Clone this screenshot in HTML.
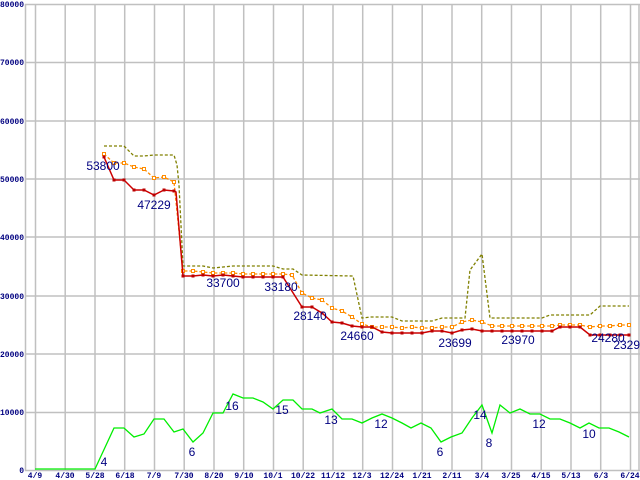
<!DOCTYPE html>
<html><head><style>body{margin:0;background:#fff}svg{display:block}</style></head><body>
<svg width="640" height="480" xmlns="http://www.w3.org/2000/svg">
<rect width="640" height="480" fill="#fff"/>
<g stroke="#c0c0c0" stroke-width="1.5">
<line x1="25" y1="4.5" x2="640" y2="4.5"/>
<line x1="25" y1="62.5" x2="640" y2="62.5"/>
<line x1="25" y1="121" x2="640" y2="121"/>
<line x1="25" y1="179" x2="640" y2="179"/>
<line x1="25" y1="237" x2="640" y2="237"/>
<line x1="25" y1="296" x2="640" y2="296"/>
<line x1="25" y1="354" x2="640" y2="354"/>
<line x1="25" y1="412.5" x2="640" y2="412.5"/>
<line x1="25" y1="470.5" x2="640" y2="470.5"/>
<line x1="25.5" y1="4" x2="25.5" y2="471"/>
<line x1="639" y1="4" x2="639" y2="471"/>
<line x1="35.5" y1="4" x2="35.5" y2="471"/><line x1="65.2" y1="4" x2="65.2" y2="471"/><line x1="95" y1="4" x2="95" y2="471"/><line x1="124.7" y1="4" x2="124.7" y2="471"/><line x1="154.5" y1="4" x2="154.5" y2="471"/><line x1="184.2" y1="4" x2="184.2" y2="471"/><line x1="214" y1="4" x2="214" y2="471"/><line x1="243.7" y1="4" x2="243.7" y2="471"/><line x1="273.5" y1="4" x2="273.5" y2="471"/><line x1="303.2" y1="4" x2="303.2" y2="471"/><line x1="333" y1="4" x2="333" y2="471"/><line x1="362.7" y1="4" x2="362.7" y2="471"/><line x1="392.5" y1="4" x2="392.5" y2="471"/><line x1="422.2" y1="4" x2="422.2" y2="471"/><line x1="452" y1="4" x2="452" y2="471"/><line x1="481.7" y1="4" x2="481.7" y2="471"/><line x1="511.5" y1="4" x2="511.5" y2="471"/><line x1="541.2" y1="4" x2="541.2" y2="471"/><line x1="571" y1="4" x2="571" y2="471"/><line x1="600.7" y1="4" x2="600.7" y2="471"/><line x1="630.5" y1="4" x2="630.5" y2="471"/>
</g>
<g font-family="Liberation Mono, monospace" font-size="8" font-weight="bold" fill="#000080">
<g text-anchor="end">
<text x="24" y="7">80000</text><text x="24" y="65">70000</text><text x="24" y="124">60000</text><text x="24" y="182">50000</text><text x="24" y="240">40000</text><text x="24" y="299">30000</text><text x="24" y="357">20000</text><text x="24" y="415">10000</text><text x="24" y="473">0</text>
</g>
<g text-anchor="middle">
<text x="35" y="478">4/9</text><text x="65" y="478">4/30</text><text x="95" y="478">5/28</text><text x="125" y="478">6/18</text><text x="154" y="478">7/9</text><text x="184" y="478">7/30</text><text x="214" y="478">8/20</text><text x="244" y="478">9/10</text><text x="273" y="478">10/1</text><text x="303" y="478">10/22</text><text x="333" y="478">11/12</text><text x="362" y="478">12/3</text><text x="392" y="478">12/24</text><text x="422" y="478">1/21</text><text x="452" y="478">2/11</text><text x="482" y="478">3/4</text><text x="511" y="478">3/25</text><text x="541" y="478">4/15</text><text x="571" y="478">5/13</text><text x="601" y="478">6/3</text><text x="630" y="478">6/24</text>
</g>
</g>
<polyline fill="none" stroke="#808000" stroke-width="1.3" stroke-dasharray="3,2" points="104,146 124,146 134,156 144,156 154,155 174,155 177,165 179,185 183,266 203,266 213,268 223,267 233,266 273,266 283,269 293,269 302,275 352,276 353,276 362,318 371,317 392,317 402,321 432,321 442,318 465,318 470,270 482,254 490,318 542,318 550,315 590,315 600,306 629,306"/>
<polyline fill="none" stroke="#ff8c00" stroke-width="1.3" stroke-dasharray="3,2" points="104,154 114,163 124,163 134,167 144,169 154,178 164,177 174,182 183,271 193,271 203,272 213,273 223,273 233,273 243,274 253,274 263,274 273,274 283,274 292,275 302,293 312,298 322,300 332,308 342,311 352,317 362,324 372,327 382,327 392,327 402,328 412,327 422,328 432,328 442,327 452,327 462,322 472,320 482,322 492,326 502,326 512,326 522,326 532,326 542,326 552,326 560,325 570,325 580,325 590,327 600,326 610,326 620,325 629,325"/>
<g fill="#fff" stroke="#ff8c00" stroke-width="1">
<rect x="102.5" y="152.5" width="3" height="3"/><rect x="112.5" y="161.5" width="3" height="3"/><rect x="122.5" y="161.5" width="3" height="3"/><rect x="132.5" y="165.5" width="3" height="3"/><rect x="142.5" y="167.5" width="3" height="3"/><rect x="152.5" y="176.5" width="3" height="3"/><rect x="162.5" y="175.5" width="3" height="3"/><rect x="172.5" y="180.5" width="3" height="3"/><rect x="181.5" y="269.5" width="3" height="3"/><rect x="191.5" y="269.5" width="3" height="3"/><rect x="201.5" y="270.5" width="3" height="3"/><rect x="211.5" y="271.5" width="3" height="3"/><rect x="221.5" y="271.5" width="3" height="3"/><rect x="231.5" y="271.5" width="3" height="3"/><rect x="241.5" y="272.5" width="3" height="3"/><rect x="251.5" y="272.5" width="3" height="3"/><rect x="261.5" y="272.5" width="3" height="3"/><rect x="271.5" y="272.5" width="3" height="3"/><rect x="281.5" y="272.5" width="3" height="3"/><rect x="290.5" y="273.5" width="3" height="3"/><rect x="300.5" y="291.5" width="3" height="3"/><rect x="310.5" y="296.5" width="3" height="3"/><rect x="320.5" y="298.5" width="3" height="3"/><rect x="330.5" y="306.5" width="3" height="3"/><rect x="340.5" y="309.5" width="3" height="3"/><rect x="350.5" y="315.5" width="3" height="3"/><rect x="360.5" y="322.5" width="3" height="3"/><rect x="370.5" y="325.5" width="3" height="3"/><rect x="380.5" y="325.5" width="3" height="3"/><rect x="390.5" y="325.5" width="3" height="3"/><rect x="400.5" y="326.5" width="3" height="3"/><rect x="410.5" y="325.5" width="3" height="3"/><rect x="420.5" y="326.5" width="3" height="3"/><rect x="430.5" y="326.5" width="3" height="3"/><rect x="440.5" y="325.5" width="3" height="3"/><rect x="450.5" y="325.5" width="3" height="3"/><rect x="460.5" y="320.5" width="3" height="3"/><rect x="470.5" y="318.5" width="3" height="3"/><rect x="480.5" y="320.5" width="3" height="3"/><rect x="490.5" y="324.5" width="3" height="3"/><rect x="500.5" y="324.5" width="3" height="3"/><rect x="510.5" y="324.5" width="3" height="3"/><rect x="520.5" y="324.5" width="3" height="3"/><rect x="530.5" y="324.5" width="3" height="3"/><rect x="540.5" y="324.5" width="3" height="3"/><rect x="550.5" y="324.5" width="3" height="3"/><rect x="558.5" y="323.5" width="3" height="3"/><rect x="568.5" y="323.5" width="3" height="3"/><rect x="578.5" y="323.5" width="3" height="3"/><rect x="588.5" y="325.5" width="3" height="3"/><rect x="598.5" y="324.5" width="3" height="3"/><rect x="608.5" y="324.5" width="3" height="3"/><rect x="618.5" y="323.5" width="3" height="3"/><rect x="627.5" y="323.5" width="3" height="3"/>
</g>
<polyline fill="none" stroke="#cc0000" stroke-width="1.5" points="104,157 114,180 124,180 134,190 144,190 154,195 164,190 174,191 176,192 183,276 193,276 203,275 213,276 223,275 233,276 243,277 253,277 263,277 273,277 283,277 302,307 312,307 322,313 332,322 342,323 352,326 362,327 372,327 382,332 392,333 402,333 412,333 422,333 432,331 442,331 452,333 462,330 472,329 482,331 492,331 552,331 560,327 580,327 590,335 629,335"/>
<g fill="#bb0000">
<rect x="102.5" y="155.5" width="3" height="3"/><rect x="112.5" y="178.5" width="3" height="3"/><rect x="122.5" y="178.5" width="3" height="3"/><rect x="132.5" y="188.5" width="3" height="3"/><rect x="142.5" y="188.5" width="3" height="3"/><rect x="152.5" y="193.5" width="3" height="3"/><rect x="162.5" y="188.5" width="3" height="3"/><rect x="172.5" y="189.5" width="3" height="3"/><rect x="181.5" y="274.5" width="3" height="3"/><rect x="191.5" y="274.5" width="3" height="3"/><rect x="201.5" y="273.5" width="3" height="3"/><rect x="211.5" y="274.5" width="3" height="3"/><rect x="221.5" y="273.5" width="3" height="3"/><rect x="231.5" y="274.5" width="3" height="3"/><rect x="241.5" y="275.5" width="3" height="3"/><rect x="251.5" y="275.5" width="3" height="3"/><rect x="261.5" y="275.5" width="3" height="3"/><rect x="271.5" y="275.5" width="3" height="3"/><rect x="281.5" y="275.5" width="3" height="3"/><rect x="300.5" y="305.5" width="3" height="3"/><rect x="310.5" y="305.5" width="3" height="3"/><rect x="320.5" y="311.5" width="3" height="3"/><rect x="330.5" y="320.5" width="3" height="3"/><rect x="340.5" y="321.5" width="3" height="3"/><rect x="350.5" y="324.5" width="3" height="3"/><rect x="360.5" y="325.5" width="3" height="3"/><rect x="370.5" y="325.5" width="3" height="3"/><rect x="380.5" y="330.5" width="3" height="3"/><rect x="390.5" y="331.5" width="3" height="3"/><rect x="400.5" y="331.5" width="3" height="3"/><rect x="410.5" y="331.5" width="3" height="3"/><rect x="420.5" y="331.5" width="3" height="3"/><rect x="430.5" y="329.5" width="3" height="3"/><rect x="440.5" y="329.5" width="3" height="3"/><rect x="450.5" y="331.5" width="3" height="3"/><rect x="460.5" y="328.5" width="3" height="3"/><rect x="470.5" y="327.5" width="3" height="3"/><rect x="480.5" y="329.5" width="3" height="3"/><rect x="490.5" y="329.5" width="3" height="3"/><rect x="500.5" y="329.5" width="3" height="3"/><rect x="510.5" y="329.5" width="3" height="3"/><rect x="520.5" y="329.5" width="3" height="3"/><rect x="530.5" y="329.5" width="3" height="3"/><rect x="540.5" y="329.5" width="3" height="3"/><rect x="550.5" y="329.5" width="3" height="3"/><rect x="558.5" y="325.5" width="3" height="3"/><rect x="568.5" y="325.5" width="3" height="3"/><rect x="578.5" y="325.5" width="3" height="3"/><rect x="588.5" y="333.5" width="3" height="3"/><rect x="598.5" y="333.5" width="3" height="3"/><rect x="608.5" y="333.5" width="3" height="3"/><rect x="618.5" y="333.5" width="3" height="3"/><rect x="627.5" y="333.5" width="3" height="3"/>
</g>
<polyline fill="none" stroke="#00ee00" stroke-width="1.3" points="35,469 95,469 114,428 124,428 134,437 144,434 154,419 164,419 174,432 183,429 193,442 203,433 213,413 223,413 233,394 243,398 253,398 263,402 273,409 283,400 293,400 302,409 312,409 320,413 332,409 342,419 352,419 362,423 372,418 382,414 392,418 402,423 411,428 421,423 431,428 441,442 451,437 462,433 472,418 482,405 492,433 500,405 510,413 520,409 530,414 540,414 550,419 560,419 570,423 580,428 589,423 599,428 609,428 619,432 629,437"/>
<g font-family="Liberation Sans, sans-serif" font-size="12" fill="#000080" text-anchor="middle">
<text x="103" y="170">53800</text><text x="154" y="209">47229</text><text x="223" y="287">33700</text><text x="281" y="291">33180</text><text x="310" y="320">28140</text><text x="357" y="340">24660</text><text x="455" y="347">23699</text><text x="518" y="344">23970</text><text x="608" y="342">24280</text><text x="630" y="349">23290</text>
<text x="104" y="466">4</text><text x="192" y="456">6</text><text x="232" y="410">16</text><text x="282" y="414">15</text><text x="331" y="424">13</text><text x="381" y="428">12</text><text x="440" y="456">6</text><text x="480" y="419">14</text><text x="489" y="447">8</text><text x="539" y="428">12</text><text x="589" y="438">10</text>
</g>
</svg>
</body></html>
